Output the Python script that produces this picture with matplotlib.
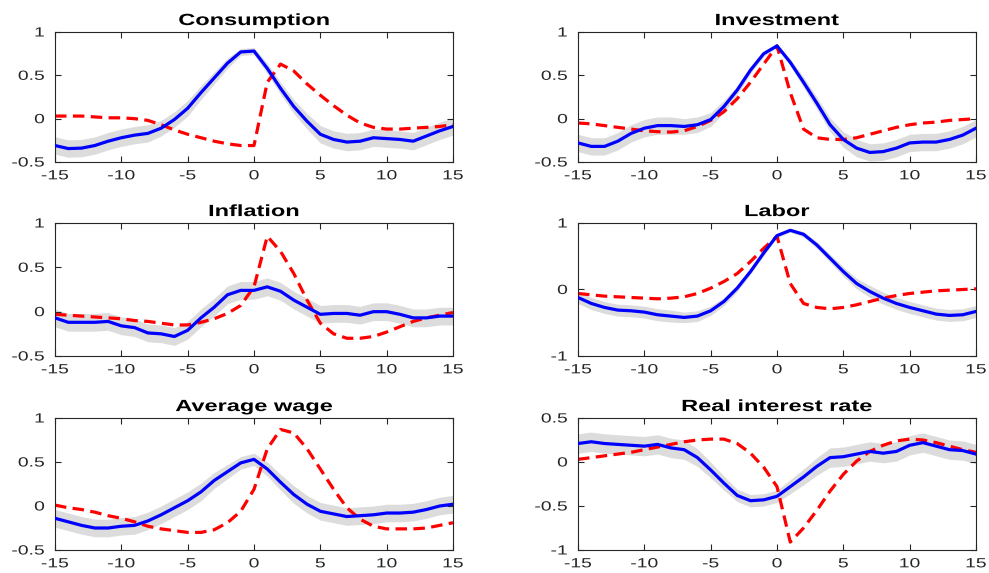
import numpy as np
import matplotlib
matplotlib.use("Agg")
import matplotlib.pyplot as plt
from matplotlib import patheffects
from matplotlib.transforms import Affine2D

plt.rcParams['font.family'] = ['Liberation Sans', 'DejaVu Sans']
plt.rcParams['axes.unicode_minus'] = False

horizon = list(range(-15, 16))

titles = ["Consumption", "Investment", "Inflation", "Labor", "Average wage", "Real interest rate"]

cons_data = [-0.31, -0.345, -0.34, -0.31, -0.26, -0.22, -0.19, -0.17, -0.11, -0.01, 0.12, 0.30, 0.47, 0.64,
             0.77, 0.78, 0.58, 0.35, 0.14, -0.03, -0.18, -0.24, -0.27, -0.26, -0.22, -0.23, -0.24, -0.26,
             -0.20, -0.14, -0.09]
cons_model = [0.03, 0.03, 0.03, 0.02, 0.01, 0.01, 0.0, -0.02, -0.07, -0.13, -0.18, -0.22, -0.26, -0.29,
              -0.31, -0.31, 0.42, 0.63, 0.55, 0.40, 0.27, 0.15, 0.04, -0.05, -0.10, -0.12, -0.12, -0.11,
              -0.10, -0.09, -0.07]
cons_band = [0.1, 0.1, 0.1, 0.1, 0.1, 0.1, 0.1, 0.1, 0.09, 0.09, 0.09, 0.08, 0.07, 0.06,
             0.04, 0.04, 0.06, 0.07, 0.08, 0.09, 0.1, 0.1, 0.1, 0.1, 0.1, 0.1, 0.1, 0.1,
             0.1, 0.1, 0.1]

inv_data = [-0.28, -0.32, -0.32, -0.26, -0.17, -0.11, -0.08, -0.08, -0.09, -0.07, -0.01, 0.14, 0.33, 0.56,
            0.75, 0.84, 0.65, 0.42, 0.18, -0.07, -0.24, -0.34, -0.39, -0.38, -0.34, -0.28, -0.27, -0.27,
            -0.24, -0.19, -0.11]
inv_model = [-0.05, -0.06, -0.08, -0.10, -0.12, -0.14, -0.15, -0.155, -0.14, -0.09, -0.02, 0.08, 0.23, 0.42,
             0.63, 0.84, 0.30, -0.12, -0.22, -0.24, -0.24, -0.22, -0.18, -0.14, -0.10, -0.07, -0.05, -0.04,
             -0.02, -0.01, 0.0]
inv_band = [0.1, 0.1, 0.1, 0.1, 0.1, 0.1, 0.1, 0.1, 0.09, 0.09, 0.08, 0.07, 0.05, 0.04,
            0.03, 0.02, 0.04, 0.06, 0.07, 0.08, 0.09, 0.1, 0.1, 0.1, 0.1, 0.1, 0.1, 0.1,
            0.1, 0.1, 0.1]

infl_data = [-0.07, -0.12, -0.12, -0.12, -0.11, -0.16, -0.18, -0.24, -0.25, -0.28, -0.21, -0.07, 0.05, 0.19,
             0.24, 0.24, 0.28, 0.23, 0.13, 0.05, -0.03, -0.02, -0.02, -0.04, 0.0, 0.0, -0.03, -0.07,
             -0.07, -0.05, -0.05]
infl_model = [-0.03, -0.04, -0.05, -0.06, -0.07, -0.08, -0.10, -0.11, -0.13, -0.15, -0.15, -0.12, -0.08, -0.02,
              0.07, 0.28, 0.85, 0.68, 0.43, 0.13, -0.13, -0.25, -0.30, -0.30, -0.28, -0.23, -0.17, -0.11,
              -0.07, -0.04, -0.01]
infl_band = [0.1] * 31

lab_data = [-0.12, -0.21, -0.27, -0.31, -0.32, -0.34, -0.38, -0.40, -0.42, -0.40, -0.32, -0.18, 0.02, 0.27,
            0.55, 0.81, 0.89, 0.83, 0.67, 0.47, 0.27, 0.09, -0.03, -0.13, -0.21, -0.27, -0.32, -0.37,
            -0.39, -0.38, -0.33]
lab_model = [-0.06, -0.08, -0.10, -0.11, -0.12, -0.13, -0.14, -0.13, -0.11, -0.06, 0.02, 0.12, 0.24, 0.42,
             0.62, 0.80, 0.09, -0.21, -0.27, -0.29, -0.27, -0.23, -0.18, -0.13, -0.09, -0.06, -0.04, -0.02,
             -0.01, 0.0, 0.01]
lab_band = [0.09, 0.09, 0.09, 0.09, 0.09, 0.09, 0.09, 0.09, 0.08, 0.08, 0.07, 0.06, 0.05, 0.04,
            0.04, 0.03, 0.03, 0.04, 0.05, 0.06, 0.07, 0.08, 0.09, 0.09, 0.09, 0.09, 0.09, 0.09,
            0.09, 0.09, 0.09]

wage_data = [-0.14, -0.18, -0.22, -0.25, -0.25, -0.23, -0.22, -0.17, -0.10, -0.02, 0.06, 0.16, 0.29, 0.39,
             0.49, 0.53, 0.42, 0.27, 0.13, 0.02, -0.06, -0.09, -0.12, -0.11, -0.10, -0.08, -0.08, -0.07,
             -0.04, 0.0, 0.02]
wage_model = [0.01, -0.02, -0.04, -0.07, -0.11, -0.14, -0.18, -0.23, -0.26, -0.28, -0.30, -0.30, -0.27, -0.19,
              -0.06, 0.19, 0.65, 0.87, 0.83, 0.65, 0.42, 0.19, -0.02, -0.15, -0.23, -0.26, -0.26, -0.26,
              -0.25, -0.22, -0.19]
wage_band = [0.1, 0.1, 0.1, 0.1, 0.1, 0.1, 0.1, 0.1, 0.1, 0.1, 0.1, 0.1, 0.09, 0.08,
             0.07, 0.07, 0.08, 0.09, 0.1, 0.1, 0.1, 0.1, 0.1, 0.1, 0.1, 0.1, 0.1, 0.1,
             0.1, 0.1, 0.1]

rate_data = [0.21, 0.23, 0.21, 0.20, 0.19, 0.18, 0.20, 0.16, 0.14, 0.05, -0.09, -0.24, -0.38, -0.44,
             -0.43, -0.39, -0.28, -0.17, -0.05, 0.05, 0.06, 0.09, 0.12, 0.10, 0.12, 0.19, 0.22, 0.18,
             0.14, 0.13, 0.09]
rate_model = [0.03, 0.05, 0.07, 0.09, 0.11, 0.14, 0.17, 0.20, 0.23, 0.25, 0.26, 0.26, 0.21, 0.10,
              -0.06, -0.28, -0.91, -0.75, -0.55, -0.33, -0.14, 0.01, 0.12, 0.19, 0.24, 0.26, 0.25, 0.22,
              0.18, 0.14, 0.11]
rate_band = [0.11, 0.11, 0.11, 0.11, 0.11, 0.11, 0.11, 0.11, 0.11, 0.1, 0.09, 0.08, 0.07, 0.07,
             0.07, 0.07, 0.08, 0.09, 0.1, 0.11, 0.11, 0.11, 0.11, 0.11, 0.11, 0.11, 0.11, 0.11,
             0.11, 0.11, 0.11]

y_limits = [(-0.5, 1), (-0.5, 1), (-0.5, 1), (-1, 1), (-0.5, 1), (-1, 0.5)]
y_ticks = [[-0.5, 0, 0.5, 1], [-0.5, 0, 0.5, 1], [-0.5, 0, 0.5, 1], [-1, 0, 1],
           [-0.5, 0, 0.5, 1], [-1, -0.5, 0, 0.5]]
x_ticks = [-15, -10, -5, 0, 5, 10, 15]

data_series = [cons_data, inv_data, infl_data, lab_data, wage_data, rate_data]
model_series = [cons_model, inv_model, infl_model, lab_model, wage_model, rate_model]
bands = [cons_band, inv_band, infl_band, lab_band, wage_band, rate_band]


class HStretch(patheffects.AbstractPathEffect):
    """Stretch text glyphs horizontally about an anchor fraction of their width."""

    def __init__(self, sx, frac):
        super().__init__()
        self.sx = sx
        self.frac = frac

    def draw_path(self, renderer, gc, tpath, affine, rgbFace=None):
        ext = tpath.get_extents()
        x0 = ext.x0 + self.frac * (ext.x1 - ext.x0)
        pre = Affine2D().translate(-x0, 0).scale(self.sx, 1).translate(x0, 0)
        renderer.draw_path(gc, tpath, pre + affine, rgbFace)


SX = 1.45
W, H = 989, 573
fig = plt.figure(figsize=(W / 100, H / 100), dpi=100)

col_left = [55, 578]
ax_w = 398
rows = [(32, 162), (223, 356), (418, 550)]


def fmt(v):
    return "%g" % v


for i in range(6):
    r, c = divmod(i, 2)
    top, bot = rows[r]
    ax = fig.add_axes([col_left[c] / W, 1 - bot / H, ax_w / W, (bot - top) / H])
    x = np.array(horizon)
    d = np.array(data_series[i])
    b = np.array(bands[i])
    ax.fill_between(x, d - b, d + b, color='#dcdcdc', lw=0, zorder=1)
    ax.plot(x, d, color='#0000ff', lw=2.3, zorder=3, solid_joinstyle='round')
    ax.plot(x, model_series[i], color='#ff0000', lw=2.3, ls=(0, (3.6, 2.0)), zorder=2)
    ax.set_xlim(-15, 15)
    ax.set_ylim(*y_limits[i])
    ax.set_xticks(x_ticks)
    ax.set_xticklabels([fmt(t) for t in x_ticks])
    ax.set_yticks(y_ticks[i])
    ax.set_yticklabels([fmt(t) for t in y_ticks[i]])
    ax.tick_params(direction='in', top=True, right=True, length=4, width=0.8,
                   labelsize=9.6, colors='#262626')
    ax.tick_params(axis='x', pad=6)
    ax.tick_params(axis='y', pad=7.5)
    for lab in ax.get_xticklabels():
        lab.set_path_effects([HStretch(SX, 0.5)])
    for lab in ax.get_yticklabels():
        lab.set_path_effects([HStretch(SX, 1.0)])
    for sp in ax.spines.values():
        sp.set_color('#262626')
        sp.set_linewidth(0.8)
    t = ax.set_title(titles[i], fontsize=11.7, fontweight='bold', pad=5)
    t.set_path_effects([HStretch(SX, 0.5)])

fig.savefig("out.png", dpi=100)
